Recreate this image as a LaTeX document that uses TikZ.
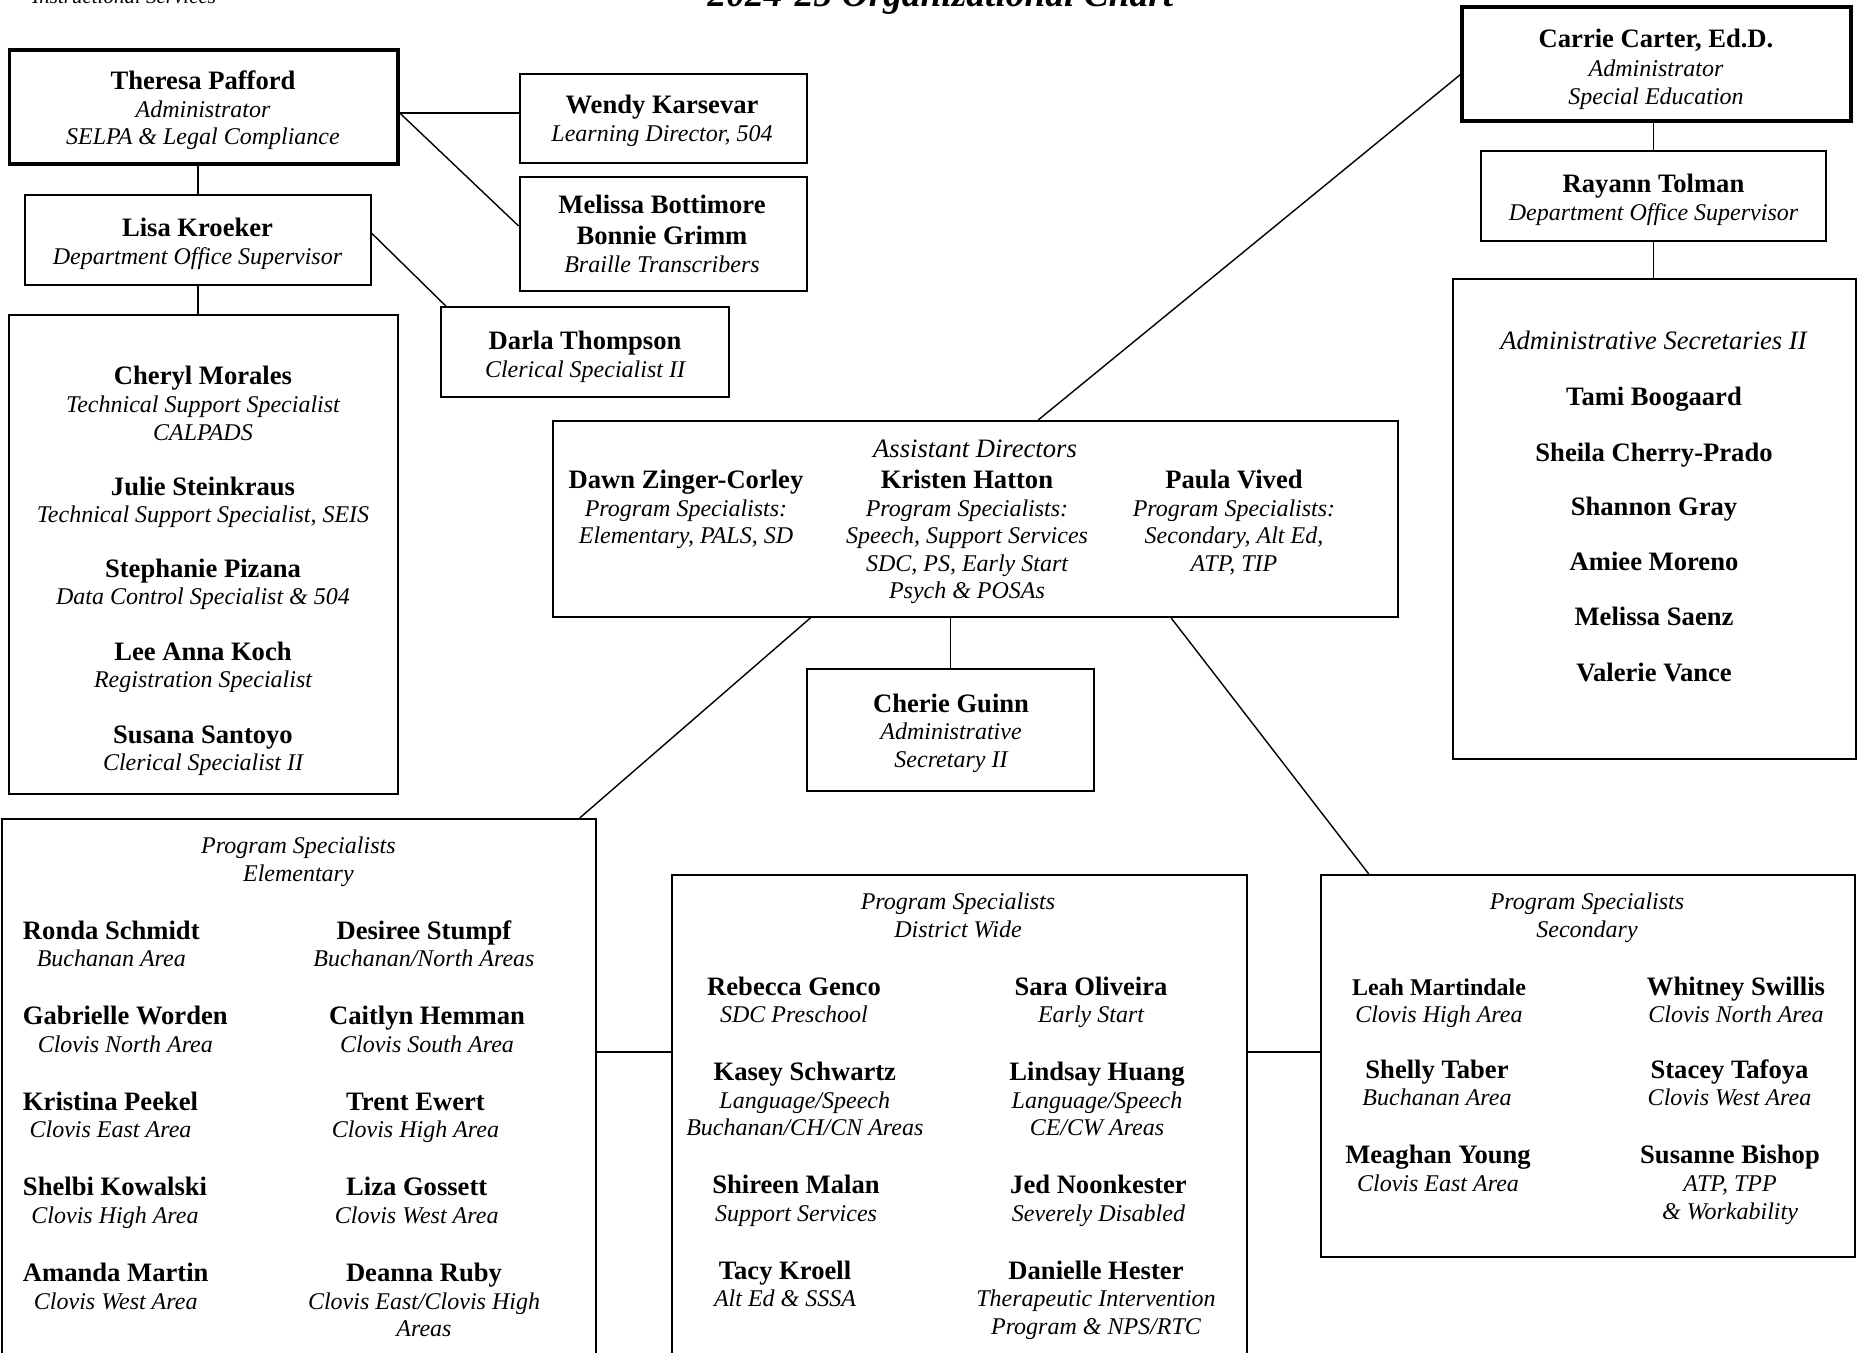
\documentclass[tikz,border=0pt]{standalone}
\usepackage{fontspec}
\setmainfont{Liberation Serif}
\usetikzlibrary{fit,calc}
\newcommand\orgfs{\fontsize{13.3}{13.8}\selectfont}
\newcommand\ppcell[1]{\begin{tabular}[t]{@{}c@{}}#1\end{tabular}}
\newcommand\ppname[1]{\textbf{#1}}
\newcommand\pptitle[1]{{\fontsize{12}{13.8}\selectfont\itshape #1}}
\newcommand\pphead[1]{\textit{#1}}
\begin{document}
\begin{tikzpicture}[x=0.5pt, y=-0.5pt,
  box/.style={draw, line width=1pt, inner sep=0pt},
  bigbox/.style={box, line width=1.6pt},
  txt/.style={inner sep=0pt, anchor=base, font=\orgfs},
  txtw/.style={txt, anchor=base west},
  link/.style={line width=0.7pt}]
\useasboundingbox (0,0) rectangle (1864,1353);
\clip (0,0) rectangle (1864,1353);
\fill[white] (0,0) rectangle (1864,1353);

% header (cut off at top)
\node[inner sep=0pt, anchor=base west, font=\fontsize{10.5}{12}\selectfont\itshape] (instr) at (32,4) {Instructional Services};
\node[inner sep=0pt, anchor=base, font=\fontsize{18.7}{20}\selectfont\bfseries\itshape] (title) at (940.5,7) {2024-25 Organizational Chart};

% boxes
\node[bigbox, fit={(9.5,50) (398,164)}] (theresa) {};
\node[box, fit={(519.5,74) (807,163)}] (wendy) {};
\node[box, fit={(519.5,177) (807,291)}] (melissa) {};
\node[box, fit={(25,195) (371,285)}] (lisa) {};
\node[box, fit={(441,307) (729,397)}] (darla) {};
\node[box, fit={(9,315) (398,794)}] (staff) {};
\node[bigbox, fit={(1462,7) (1851,121)}] (carrie) {};
\node[box, fit={(1481,151) (1826,241)}] (rayann) {};
\node[box, fit={(1453,279) (1856,759)}] (admin) {};
\node[box, fit={(553,421) (1398,617)}] (asst) {};
\node[box, fit={(807,669) (1094,791)}] (cherie) {};
\node[box, fit={(2,819) (596,1380)}] (elem) {};
\node[box, fit={(672,875) (1247,1380)}] (dist) {};
\node[box, fit={(1321,875) (1855,1257)}] (sec) {};

% connectors
\coordinate (tpR) at ($(theresa.north east)!0.55!(theresa.south east)$);
\draw[link] (tpR) -- (tpR -| wendy.west);
\draw[link] (tpR) -- ($(melissa.north west)!0.43!(melissa.south west)$);
\draw[link] (lisa.north) -- (lisa.north |- theresa.south);
\draw[link] ($(lisa.north east)!0.43!(lisa.south east)$) -- ($(darla.north west)!0.02!(darla.north east)$);
\draw[link] (lisa.south) -- (lisa.south |- staff.north);
\draw[link] ($(carrie.north west)!0.59!(carrie.south west)$) -- ($(asst.north west)!0.574!(asst.north east)$);
\draw[link] (rayann.north) -- (rayann.north |- carrie.south);
\draw[link] (rayann.south) -- (rayann.south |- admin.north);
\draw[link] ($(asst.south west)!0.305!(asst.south east)$) -- ($(elem.north west)!0.971!(elem.north east)$);
\draw[link] (cherie.north) -- (cherie.north |- asst.south);
\draw[link] ($(asst.south west)!0.731!(asst.south east)$) -- ($(sec.north west)!0.091!(sec.north east)$);
\coordinate (busrow) at (0,1052);
\draw[link] (elem.east |- busrow) -- (dist.west |- busrow);
\draw[link] (dist.east |- busrow) -- (sec.west |- busrow);

% top-left group
\node[txt] (tTheresa) at (203,89.5) {\ppcell{\ppname{Theresa Pafford}\\\pptitle{Administrator}\\\pptitle{SELPA \& Legal Compliance}}};
\node[txt] (tWendy) at (662,114) {\ppcell{\ppname{Wendy Karsevar}\\\pptitle{Learning Director, 504}}};
\node[txt] (tMelissa) at (662,213.5) {\ppcell{\ppname{Melissa Bottimore}\\[1.65pt]\ppname{Bonnie Grimm}\\[0.5pt]\pptitle{Braille Transcribers}}};
\node[txt] (tLisa) at (197.5,237) {\ppcell{\ppname{Lisa Kroeker}\\\pptitle{Department Office Supervisor}}};
\node[txt] (tDarla) at (585,349.5) {\ppcell{\ppname{Darla Thompson}\\\pptitle{Clerical Specialist II}}};
\node[txt] (tCheryl) at (203,385) {\ppcell{\ppname{Cheryl Morales}\\\pptitle{Technical Support Specialist}\\\pptitle{CALPADS}}};
\node[txt] (tJulie) at (203,495) {\ppcell{\ppname{Julie Steinkraus}\\\pptitle{Technical Support Specialist, SEIS}}};
\node[txt] (tStephanie) at (203,577) {\ppcell{\ppname{Stephanie Pizana}\\\pptitle{Data Control Specialist \& 504}}};
\node[txt] (tLee) at (203,660) {\ppcell{\ppname{Lee Anna Koch}\\\pptitle{Registration Specialist}}};
\node[txt] (tSusana) at (203,743) {\ppcell{\ppname{Susana Santoyo}\\\pptitle{Clerical Specialist II}}};

% right group
\node[txt] (tCarrie) at (1656,47.5) {\ppcell{\ppname{Carrie Carter, Ed.D.}\\[0.5pt]\pptitle{Administrator}\\[0.5pt]\pptitle{Special Education}}};
\node[txt] (tRayann) at (1653.5,192.5) {\ppcell{\ppname{Rayann Tolman}\\\pptitle{Department Office Supervisor}}};
\node[txt] (tAdminHead) at (1654,349.5) {\pphead{Administrative Secretaries II}};
\node[txt] (tTami) at (1654,405.5) {\ppname{Tami Boogaard}};
\node[txt] (tSheila) at (1654,461.2) {\ppname{Sheila Cherry-Prado}};
\node[txt] (tShannon) at (1654,515.9) {\ppname{Shannon Gray}};
\node[txt] (tAmiee) at (1654,570.5) {\ppname{Amiee Moreno}};
\node[txt] (tMelissaS) at (1654,625.3) {\ppname{Melissa Saenz}};
\node[txt] (tValerie) at (1654,681.2) {\ppname{Valerie Vance}};

% assistant directors
\node[txt] (tAsstHead) at (975,457.5) {\pphead{Assistant Directors}};
\node[txt] (tDawn) at (686,488.5) {\ppcell{\ppname{Dawn Zinger-Corley}\\\pptitle{Program Specialists:}\\\pptitle{Elementary, PALS, SD}}};
\node[txt] (tKristen) at (967,488.5) {\ppcell{\ppname{Kristen Hatton}\\\pptitle{Program Specialists:}\\\pptitle{Speech, Support Services}\\\pptitle{SDC, PS, Early Start}\\\pptitle{Psych \& POSAs}}};
\node[txt] (tPaula) at (1234,488.5) {\ppcell{\ppname{Paula Vived}\\\pptitle{Program Specialists:}\\\pptitle{Secondary, Alt Ed,}\\\pptitle{ATP, TIP}}};
\node[txt] (tCherie) at (951,712) {\ppcell{\ppname{Cherie Guinn}\\\pptitle{Administrative}\\\pptitle{Secretary II}}};

% elementary
\node[txt] (tElemHead) at (298.4,853.5) {\ppcell{\pptitle{Program Specialists}\\\pptitle{Elementary}}};
\node[txtw] (tRonda) at (22.6,939) {\ppcell{\ppname{Ronda Schmidt}\\\pptitle{Buchanan Area}}};
\node[txtw] (tGabrielle) at (22.6,1024.7) {\ppcell{\ppname{Gabrielle Worden}\\\pptitle{Clovis North Area}}};
\node[txtw] (tKristina) at (22.6,1110.3) {\ppcell{\ppname{Kristina Peekel}\\\pptitle{Clovis East Area}}};
\node[txtw] (tShelbi) at (22.6,1195.9) {\ppcell{\ppname{Shelbi Kowalski}\\\pptitle{Clovis High Area}}};
\node[txtw] (tAmanda) at (22.6,1281.5) {\ppcell{\ppname{Amanda Martin}\\\pptitle{Clovis West Area}}};
\node[txt] (tDesiree) at (424,939) {\ppcell{\ppname{Desiree Stumpf}\\\pptitle{Buchanan/North Areas}}};
\node[txt] (tCaitlyn) at (427,1024.7) {\ppcell{\ppname{Caitlyn Hemman}\\\pptitle{Clovis South Area}}};
\node[txt] (tTrent) at (415.5,1110.3) {\ppcell{\ppname{Trent Ewert}\\\pptitle{Clovis High Area}}};
\node[txt] (tLiza) at (416.7,1195.9) {\ppcell{\ppname{Liza Gossett}\\\pptitle{Clovis West Area}}};
\node[txt] (tDeanna) at (424,1281.5) {\ppcell{\ppname{Deanna Ruby}\\\pptitle{Clovis East/Clovis High}\\\pptitle{Areas}}};

% district wide
\node[txt] (tDistHead) at (958,909.5) {\ppcell{\pptitle{Program Specialists}\\\pptitle{District Wide}}};
\node[txt] (tRebecca) at (794,995) {\ppcell{\ppname{Rebecca Genco}\\\pptitle{SDC Preschool}}};
\node[txt] (tKasey) at (804.8,1080.5) {\ppcell{\ppname{Kasey Schwartz}\\\pptitle{Language/Speech}\\\pptitle{Buchanan/CH/CN Areas}}};
\node[txt] (tShireen) at (796,1193.5) {\ppcell{\ppname{Shireen Malan}\\\pptitle{Support Services}}};
\node[txt] (tTacy) at (785,1279.1) {\ppcell{\ppname{Tacy Kroell}\\\pptitle{Alt Ed \& SSSA}}};
\node[txt] (tSara) at (1091,995) {\ppcell{\ppname{Sara Oliveira}\\\pptitle{Early Start}}};
\node[txt] (tLindsay) at (1097,1080.5) {\ppcell{\ppname{Lindsay Huang}\\\pptitle{Language/Speech}\\\pptitle{CE/CW Areas}}};
\node[txt] (tJed) at (1098.5,1193.5) {\ppcell{\ppname{Jed Noonkester}\\\pptitle{Severely Disabled}}};
\node[txt] (tDanielle) at (1096,1279.1) {\ppcell{\ppname{Danielle Hester}\\\pptitle{Therapeutic Intervention}\\\pptitle{Program \& NPS/RTC}}};

% secondary
\node[txt] (tSecHead) at (1587,909.5) {\ppcell{\pptitle{Program Specialists}\\\pptitle{Secondary}}};
\node[txt] (tLeah) at (1439,995) {\ppcell{{\fontsize{12}{13.8}\selectfont\ppname{Leah Martindale}}\\\pptitle{Clovis High Area}}};
\node[txt] (tShelly) at (1437,1078.2) {\ppcell{\ppname{Shelly Taber}\\\pptitle{Buchanan Area}}};
\node[txt] (tMeaghan) at (1438,1163.8) {\ppcell{\ppname{Meaghan Young}\\\pptitle{Clovis East Area}}};
\node[txt] (tWhitney) at (1736,995) {\ppcell{\ppname{Whitney Swillis}\\\pptitle{Clovis North Area}}};
\node[txt] (tStacey) at (1729.5,1078.2) {\ppcell{\ppname{Stacey Tafoya}\\\pptitle{Clovis West Area}}};
\node[txt] (tSusanne) at (1730,1163.8) {\ppcell{\ppname{Susanne Bishop}\\\pptitle{ATP, TPP}\\\pptitle{\& Workability}}};
\end{tikzpicture}
\end{document}
